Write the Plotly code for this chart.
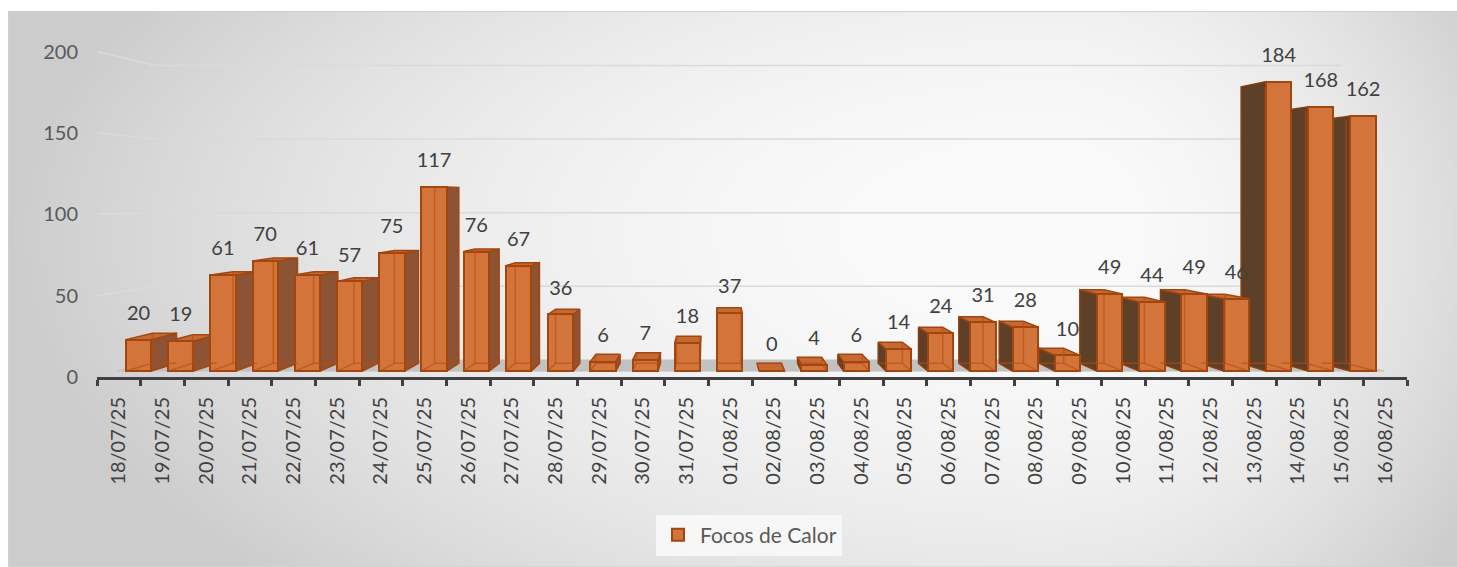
import base64, struct, zlib
import numpy as np
import plotly.graph_objects as go

# ---------------- data ----------------
dates = ["18/07/25", "19/07/25", "20/07/25", "21/07/25", "22/07/25", "23/07/25",
         "24/07/25", "25/07/25", "26/07/25", "27/07/25", "28/07/25", "29/07/25",
         "30/07/25", "31/07/25", "01/08/25", "02/08/25", "03/08/25", "04/08/25",
         "05/08/25", "06/08/25", "07/08/25", "08/08/25", "09/08/25", "10/08/25",
         "11/08/25", "12/08/25", "13/08/25", "14/08/25", "15/08/25", "16/08/25"]
focos = [20, 19, 61, 70, 61, 57, 75, 117, 76, 67, 36, 6, 7, 18, 37, 0, 4, 6,
         14, 24, 31, 28, 10, 49, 44, 49, 46, 184, 168, 162]
y_ticks = [0, 50, 100, 150, 200]
series_name = "Focos de Calor"

# ---------------- geometry / style ----------------
W, H = 1457, 567
ML, MR, MT, MB = 97, 50, 30, 188
PW, PH = W - ML - MR, H - MT - MB
PX_PER_UNIT = 1.6365
Y_MAX = PH / PX_PER_UNIT
X_RANGE = [-0.5, 29.5]

VX, VY = 13.65, 110.0                 # vanishing point (data units)
S_FRONT, S_BACK, S_WALL = 0.967, 0.9235, 0.905
HW = 0.30

FONT = "Lato"
FRONT = "#d3743b"
EDGE = "#a2460f"
SIDE_LIT = "#8c5435"
SIDE_DARK = "#5e4029"
TOP = "#c56a33"


def proj(x, y, s):
    return VX + s * (x - VX), VY + s * (y - VY)


# ---------------- background gradient image ----------------
def png_uri(arr):
    h, w, _ = arr.shape
    raw = b"".join(b"\x00" + arr[r].tobytes() for r in range(h))

    def chunk(t, d):
        return struct.pack(">I", len(d)) + t + d + struct.pack(">I", zlib.crc32(t + d) & 0xffffffff)

    png = (b"\x89PNG\r\n\x1a\n" + chunk(b"IHDR", struct.pack(">IIBBBBB", w, h, 8, 2, 0, 0, 0))
           + chunk(b"IDAT", zlib.compress(raw, 9)) + chunk(b"IEND", b""))
    return "data:image/png;base64," + base64.b64encode(png).decode()


BX0, BY0, BX1, BY1 = 8, 11, 1460, 570
gw, gh = 363, 140
gx = np.linspace(BX0, BX1, gw)[None, :]
gy = np.linspace(BY0, BY1, gh)[:, None]
cx, cy = 1050.0, 230.0
rx = np.where(gx < cx, 1000.0, 480.0)
ry = np.where(gy < cy, 450.0, 520.0)
d = np.sqrt(((gx - cx) / rx) ** 2 + ((gy - cy) / ry) ** 2)
t = np.clip(d, 0, 1.05) ** 2
val = (251 - (251 - 204) * t / 1.05 ** 2).astype(np.uint8)
img = np.repeat(val[:, :, None], 3, axis=2)
bg_uri = png_uri(np.ascontiguousarray(img))


def px_to_paper_x(px):
    return (px - ML) / PW


def px_to_paper_y(py):
    return (H - MB - py) / PH


fig = go.Figure()

# ---------------- gridlines on back wall (base subplot) ----------------
gxs, gys = [], []
for v in y_ticks[1:]:
    wx0, wy = proj(-0.5, v, S_WALL)
    wx1, _ = proj(29.5, v, S_WALL)
    gxs += [-0.5, wx0, wx1, None]
    gys += [v, wy, wy, None]
fig.add_trace(go.Scatter(x=gxs, y=gys, mode="lines", line=dict(color="#dadada", width=1.5),
                         hoverinfo="skip", showlegend=False))

# ---------------- floor ----------------
fl = [proj(-0.5, 0, S_FRONT), proj(29.5, 0, S_FRONT), proj(29.5, 0, S_WALL), proj(-0.5, 0, S_WALL)]
fig.add_trace(go.Scatter(x=[p[0] for p in fl] + [fl[0][0]], y=[p[1] for p in fl] + [fl[0][1]],
                         mode="lines", fill="toself", fillcolor="#c2c2c2",
                         line=dict(color="#c2c2c2", width=1), hoverinfo="skip", showlegend=False))

# ---------------- 3D faces ----------------
lit_x, lit_y, dark_x, dark_y, top_x, top_y, gl_x, gl_y = [], [], [], [], [], [], [], []
for i, v in enumerate(focos):
    xl, xr = i - HW, i + HW
    fxr, _ = proj(xr, 0, S_FRONT)
    if fxr < VX:
        side_x, tx, ty, inner = xr, lit_x, lit_y, xl
    else:
        side_x, tx, ty, inner = xl, dark_x, dark_y, xr
    pts = [proj(side_x, 0, S_FRONT), proj(side_x, v, S_FRONT), proj(side_x, v, S_BACK), proj(side_x, 0, S_BACK)]
    tx += [p[0] for p in pts] + [pts[0][0], None]
    ty += [p[1] for p in pts] + [pts[0][1], None]
    if v < VY:
        pts = [proj(xl, v, S_FRONT), proj(xr, v, S_FRONT), proj(xr, v, S_BACK), proj(xl, v, S_BACK)]
        top_x += [p[0] for p in pts] + [pts[0][0], None]
        top_y += [p[1] for p in pts] + [pts[0][1], None]
    # back edges seen through the glassy front
    a = proj(inner, 0, S_BACK)
    b = proj(inner, v, S_BACK)
    c = proj(side_x, 0, S_BACK)
    e = proj(inner, 0, S_FRONT)
    gl_x += [b[0], a[0], c[0], None, e[0], a[0], None]
    gl_y += [b[1], a[1], c[1], None, e[1], a[1], None]

fig.add_trace(go.Scatter(x=lit_x, y=lit_y, mode="lines", fill="toself", fillcolor=SIDE_LIT,
                         line=dict(color=EDGE, width=1.5), hoverinfo="skip", showlegend=False))
fig.add_trace(go.Scatter(x=dark_x, y=dark_y, mode="lines", fill="toself", fillcolor=SIDE_DARK,
                         line=dict(color="#8a3c0e", width=1.5), hoverinfo="skip", showlegend=False))
fig.add_trace(go.Scatter(x=top_x, y=top_y, mode="lines", fill="toself", fillcolor=TOP,
                         line=dict(color=EDGE, width=1.5), hoverinfo="skip", showlegend=False))

# ---------------- front faces (bars, overlay subplot drawn on top) ----------------
front_x = [proj(i, 0, S_FRONT)[0] for i in range(len(focos))]
front_base = [proj(i, 0, S_FRONT)[1] for i in range(len(focos))]
front_h = [S_FRONT * v for v in focos]
fig.add_trace(go.Bar(x=front_x, y=front_h, base=front_base, width=2 * HW * S_FRONT,
                     name=series_name, marker=dict(color=FRONT, line=dict(color=EDGE, width=2)),
                     customdata=focos, hovertemplate="%{customdata}<extra></extra>",
                     xaxis="x2", yaxis="y2"))

fig.add_trace(go.Scatter(x=gl_x, y=gl_y, mode="lines", line=dict(color="rgba(185,75,15,0.6)", width=1.5),
                         hoverinfo="skip", showlegend=False, xaxis="x2", yaxis="y2"))

# ---------------- data labels ----------------
lab_y = [proj(i, v, S_FRONT)[1] + 25 / PX_PER_UNIT for i, v in enumerate(focos)]
fig.add_trace(go.Scatter(x=front_x, y=lab_y, mode="text", text=[str(v) for v in focos],
                         textposition="middle center", textfont=dict(family=FONT, size=20, color="#404040"),
                         hoverinfo="skip", showlegend=False, cliponaxis=False, xaxis="x2", yaxis="y2"))

# ---------------- layout ----------------
fig.update_layout(
    width=W, height=H,
    margin=dict(l=ML, r=MR, t=MT, b=MB),
    paper_bgcolor="white", plot_bgcolor="rgba(0,0,0,0)",
    font=dict(family=FONT, size=20, color="#595959"),
    bargap=0,
    images=[dict(source=bg_uri, xref="paper", yref="paper",
                 x=px_to_paper_x(BX0), y=px_to_paper_y(BY0),
                 sizex=(BX1 - BX0) / PW, sizey=(BY1 - BY0) / PH,
                 xanchor="left", yanchor="top", sizing="stretch", layer="below")],
    shapes=[dict(type="rect", xref="paper", yref="paper", layer="below",
                 x0=px_to_paper_x(BX0 + 0.5), x1=px_to_paper_x(BX1),
                 y0=px_to_paper_y(BY1), y1=px_to_paper_y(BY0 + 0.5),
                 line=dict(color="#d0d0d0", width=1), fillcolor="rgba(0,0,0,0)")],
    xaxis=dict(range=X_RANGE, tickmode="array", tickvals=list(range(len(dates))), ticktext=dates,
               tickangle=-90, ticks="", showgrid=False, zeroline=False,
               showline=True, linecolor="#404040", linewidth=3,
               tickfont=dict(family=FONT, size=20, color="#404040"), ticklabelstandoff=9,
               minor=dict(tickmode="array", tickvals=[i - 0.5 for i in range(len(dates) + 1)],
                          ticks="outside", ticklen=6, tickwidth=3, tickcolor="#404040", showgrid=False)),
    yaxis=dict(range=[0, Y_MAX], tickmode="array", tickvals=y_ticks, ticktext=[str(v) for v in y_ticks],
               ticks="", showgrid=False, zeroline=False, showline=False,
               tickfont=dict(family=FONT, size=20, color="#595959"), ticklabelstandoff=18),
    xaxis2=dict(range=X_RANGE, overlaying="x", visible=False, showgrid=False, zeroline=False),
    yaxis2=dict(range=[0, Y_MAX], overlaying="y", visible=False, showgrid=False, zeroline=False),
    legend=dict(orientation="h", x=px_to_paper_x(749), y=px_to_paper_y(538), xanchor="center", yanchor="middle",
                bgcolor="#f7f7f7", font=dict(family=FONT, size=21, color="#595959"),
                itemwidth=34),
    showlegend=True,
)

fig.write_html("out.html", config={"displayModeBar": False},
               post_script="document.body.style.margin='0px';")
